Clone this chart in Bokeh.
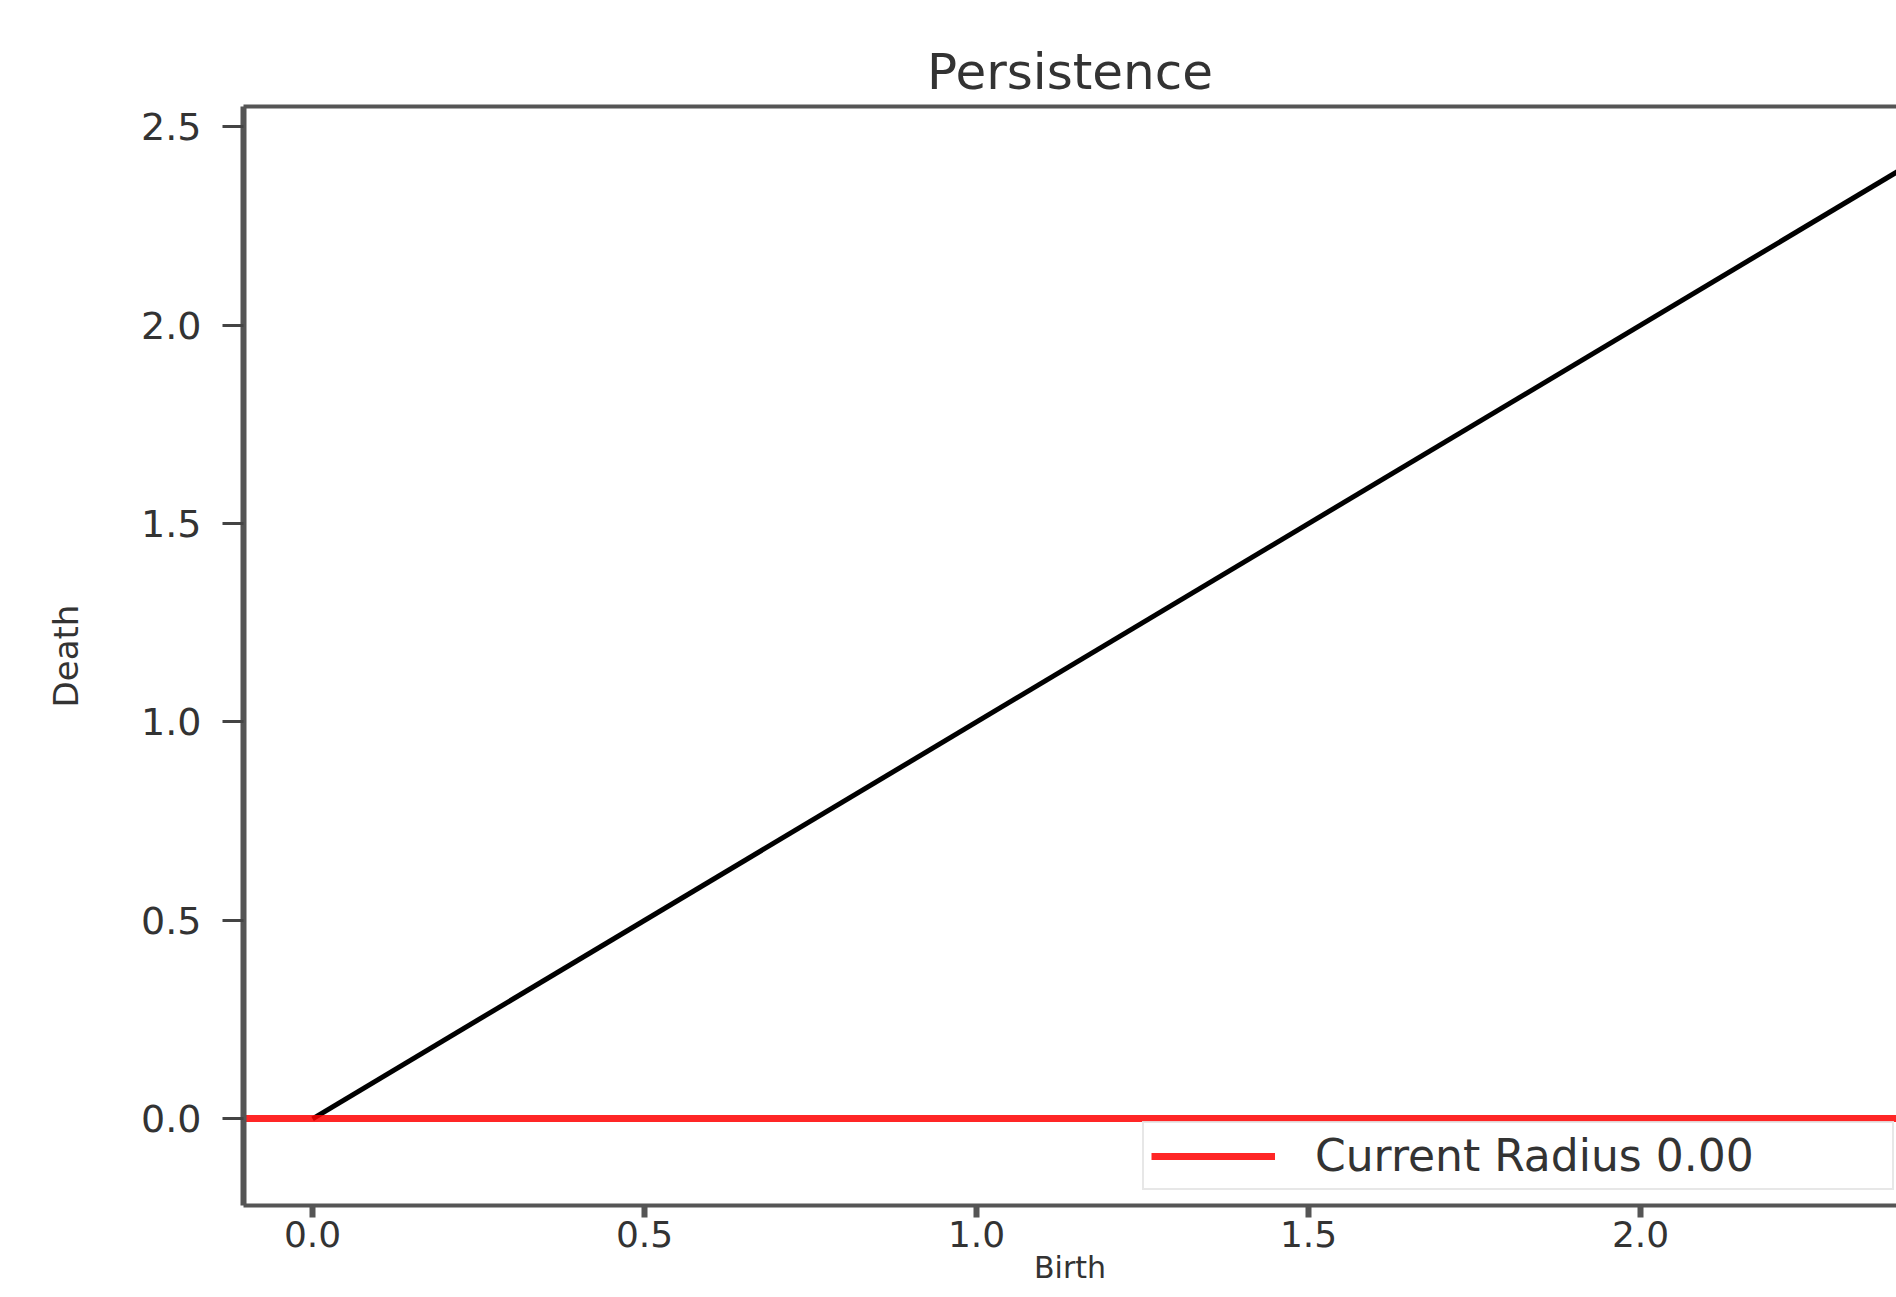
from bokeh.plotting import figure
from bokeh.models import LinearAxis, FixedTicker, Range1d, NumeralTickFormatter
from bokeh.embed import file_html
from bokeh.resources import INLINE

# ---- data ----
title_text = "Persistence"
x_label = "Birth"
y_label = "Death"
diag_birth = [0.0, 2.5]
diag_death = [0.0, 2.5]
current_radius = [0.0]
legend_text = "Current Radius 0.00"
x_ticks = [0.0, 0.5, 1.0, 1.5, 2.0]
y_ticks = [0.0, 0.5, 1.0, 1.5, 2.0, 2.5]

FONT = "DejaVu Sans"
TXT = "#333333"
FRAME = "#555555"

p = figure(width=1896, height=1297, output_backend="svg", toolbar_location=None,
           x_range=Range1d(-0.104, 2.3855), y_range=Range1d(-0.2185, 2.551),
           min_border_left=243, min_border_right=0, min_border_top=106,
           min_border_bottom=92)
p.outline_line_color = None
p.grid.visible = False
p.background_fill_color = "white"

# title
p.title.text = title_text
p.title.align = "center"
p.title.text_font = FONT
p.title.text_font_size = "50px"
p.title.text_font_style = "normal"
p.title.text_color = TXT
p.title.standoff = 12

# left axis
ya = p.yaxis[0]
ya.ticker = FixedTicker(ticks=y_ticks)
ya.formatter = NumeralTickFormatter(format="0.0")
ya.axis_line_width = 6
ya.axis_line_color = FRAME
ya.major_tick_out = 21
ya.major_tick_in = 0
ya.major_tick_line_width = 3
ya.major_tick_line_color = "#444444"
ya.minor_tick_line_color = None
ya.major_label_text_font = FONT
ya.major_label_text_font_size = "38px"
ya.major_label_text_color = TXT
ya.major_label_standoff = 21
ya.axis_label = y_label
ya.axis_label_text_font = FONT
ya.axis_label_text_font_size = "34px"
ya.axis_label_text_font_style = "normal"
ya.axis_label_text_color = TXT
ya.axis_label_standoff = 52

# bottom axis
xa = p.xaxis[0]
xa.ticker = FixedTicker(ticks=x_ticks)
xa.formatter = NumeralTickFormatter(format="0.0")
xa.axis_line_width = 4
xa.axis_line_color = FRAME
xa.major_tick_out = 12
xa.major_tick_in = 0
xa.major_tick_line_width = 6
xa.major_tick_line_color = "#555555"
xa.minor_tick_line_color = None
xa.major_label_text_font = FONT
xa.major_label_text_font_size = "36px"
xa.major_label_text_color = TXT
xa.major_label_standoff = 3
xa.axis_label = x_label
xa.axis_label_text_font = FONT
xa.axis_label_text_font_size = "30px"
xa.axis_label_text_font_style = "normal"
xa.axis_label_text_color = TXT
xa.axis_label_standoff = 0

# top border
top = LinearAxis(ticker=FixedTicker(ticks=[]), axis_line_width=4, axis_line_color=FRAME,
                 major_tick_line_color=None, minor_tick_line_color=None,
                 major_label_text_color=None)
p.add_layout(top, "above")

# data
p.line(diag_birth, diag_death, line_color="black", line_width=5)
p.hspan(y=current_radius, line_color="#ff0000", line_alpha=0.85, line_width=7,
        legend_label=legend_text)

lg = p.legend[0]
lg.location = (899, 15)
lg.padding = 7
lg.glyph_width = 124
lg.glyph_height = 20
lg.label_standoff = 40
lg.label_width = 570
lg.label_text_font = FONT
lg.label_text_font_size = "44px"
lg.label_text_color = TXT
lg.border_line_color = "#d0d0d0"
lg.border_line_width = 2
lg.background_fill_alpha = 0.8
lg.margin = 0

open("out.html", "w").write(file_html(p, INLINE))
